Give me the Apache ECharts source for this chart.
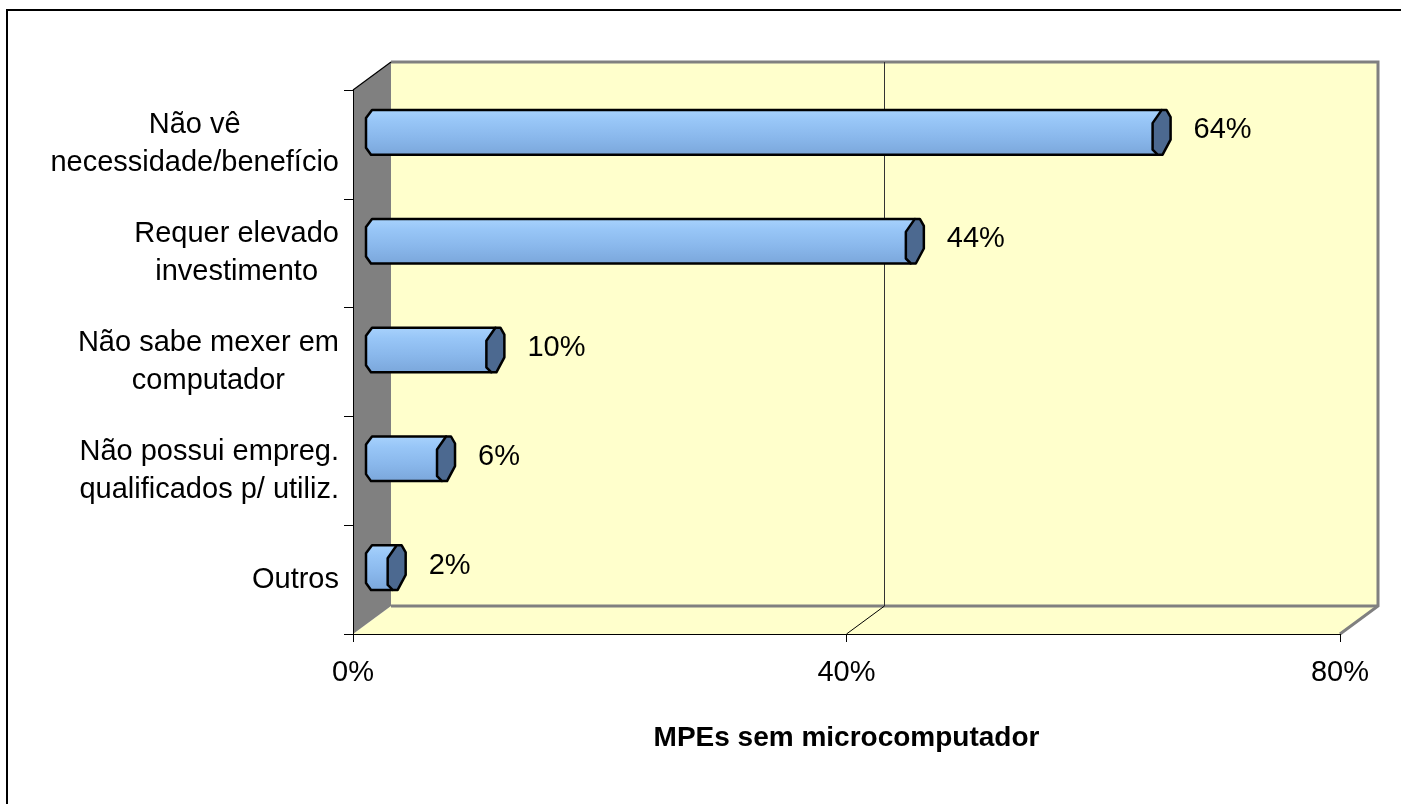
<!DOCTYPE html>
<html>
<head>
<meta charset="utf-8">
<script src="https://cdn.jsdelivr.net/npm/echarts@6/dist/echarts.min.js"></script>
<style>
  html, body { margin: 0; padding: 0; background: #fff; }
  #chart { width: 1401px; height: 804px; }
</style>
</head>
<body>
<div id="chart"></div>
<script>
// motivos das MPEs sem microcomputador
var categories = [
  'Não vê\nnecessidade/benefício',
  'Requer elevado\ninvestimento',
  'Não sabe mexer em\ncomputador',
  'Não possui empreg.\nqualificados p/ utiliz.',
  'Outros'
];
var values = [64, 44, 10, 6, 2];
var xTicks = [0, 40, 80];
var axisTitle = 'MPEs sem microcomputador';

var FONT = '"Liberation Sans", Arial, sans-serif';
var DX = 38, DY = -28; // profundidade do "3D"

var chart = echarts.init(document.getElementById('chart'), null, { renderer: 'canvas' });

function frame(api) {
  var bandH = api.size([0, 1])[1];
  var a = api.coord([xTicks[0], 0]);
  var b = api.coord([xTicks[xTicks.length - 1], categories.length - 1]);
  return { left: a[0], right: b[0], top: a[1] - bandH / 2, bottom: b[1] + bandH / 2, bandH: bandH };
}

// paredes, piso e linha de grade
function renderWalls(params, api) {
  var f = frame(api);
  var L = f.left, R = f.right, T = f.top, B = f.bottom;
  var kids = [];
  kids.push({ type: 'polygon', shape: { points: [[L, B], [L + DX, B + DY], [R + DX, B + DY], [R, B]] },
    style: { fill: '#FFFFCC', stroke: null } });
  kids.push({ type: 'polygon', shape: { points: [[L + DX, T + DY], [R + DX, T + DY], [R + DX, B + DY], [L + DX, B + DY]] },
    style: { fill: '#FFFFCC', stroke: null } });
  kids.push({ type: 'polygon', shape: { points: [[L, T], [L + DX, T + DY], [L + DX, B + DY], [L, B]] },
    style: { fill: '#808080', stroke: null } });
  // bordas cinzas
  kids.push({ type: 'polyline', shape: { points: [[L + DX, T + DY], [R + DX, T + DY], [R + DX, B + DY], [R, B]] },
    style: { stroke: '#808080', lineWidth: 3, fill: null } });
  kids.push({ type: 'line', shape: { x1: L + DX, y1: B + DY, x2: R + DX, y2: B + DY },
    style: { stroke: '#808080', lineWidth: 3 } });
  kids.push({ type: 'line', shape: { x1: L, y1: T, x2: L + DX, y2: T + DY },
    style: { stroke: '#000', lineWidth: 1.2 } });
  // grades internas
  for (var i = 1; i < xTicks.length - 1; i++) {
    var gx = api.coord([xTicks[i], 0])[0];
    kids.push({ type: 'line', shape: { x1: gx + DX, y1: T + DY, x2: gx + DX, y2: B + DY },
      style: { stroke: '#333', lineWidth: 1 } });
    kids.push({ type: 'line', shape: { x1: gx + DX, y1: B + DY, x2: gx, y2: B },
      style: { stroke: '#000', lineWidth: 1 } });
  }
  return { type: 'group', children: kids };
}

function renderBar(params, api) {
  var v = api.value(0);
  var p0 = api.coord([0, api.value(1)]);
  var p1 = api.coord([v, api.value(1)]);
  var bandH = api.size([0, 1])[1];
  var h = bandH * 0.41;
  var yc = p0[1] + DY / 2 + 2;
  var T = yc - h / 2, Bt = yc + h / 2;
  var xs = p0[0] + DX / 2, xe = p1[0] + DX / 2;
  var body = [[xs, T], [xe, T], [xe - 4, Bt], [xs - 1, Bt], [xs - 6, Bt - 7], [xs - 6, T + 8]];
  var cap = [[xe, T], [xe + 5, T], [xe + 9, T + 7], [xe + 9, Bt - 15], [xe + 1, Bt], [xe - 4, Bt], [xe - 9, Bt - 5], [xe - 9, T + 13]];
  return {
    type: 'group',
    children: [
      { type: 'polygon', shape: { points: body },
        style: { fill: new echarts.graphic.LinearGradient(0, 0, 0, 1, [
          { offset: 0, color: '#a9d3fd' }, { offset: 0.25, color: '#98c6f7' },
          { offset: 0.6, color: '#8ab8ec' }, { offset: 1, color: '#7aa6da' }]),
          stroke: '#000', lineWidth: 2.5, lineJoin: 'round' } },
      { type: 'polygon', shape: { points: cap },
        style: { fill: '#4c6990', stroke: '#000', lineWidth: 2.5, lineJoin: 'round' } },
      { type: 'text', style: { text: v + '%', x: xe + 32, y: yc - 2, fill: '#000',
          font: '29px ' + FONT, align: 'left', verticalAlign: 'middle' } }
    ]
  };
}

var option = {
  backgroundColor: '#fff',
  animation: false,
  graphic: [{
    type: 'rect', shape: { x: 7, y: 10, width: 1440, height: 840 },
    style: { fill: null, stroke: '#000', lineWidth: 2 }, z: 100
  }],
  grid: { left: 353, right: 61, top: 90, bottom: 170 },
  xAxis: {
    type: 'value', min: 0, max: 80, interval: 40,
    axisLine: { show: true, lineStyle: { color: '#000', width: 1 } },
    axisTick: { show: true, length: 8, lineStyle: { color: '#000' } },
    axisLabel: { formatter: '{value}%', color: '#000', fontSize: 29, fontFamily: FONT, margin: 24 },
    splitLine: { show: false },
    name: axisTitle, nameLocation: 'middle', nameGap: 90,
    nameTextStyle: { color: '#000', fontSize: 28, fontWeight: 'bold', fontFamily: FONT }
  },
  yAxis: {
    type: 'category', data: categories, inverse: true,
    axisLine: { show: true, lineStyle: { color: '#000', width: 1 } },
    axisTick: { show: true, length: 9, lineStyle: { color: '#000' } },
    axisLabel: {
      align: 'right', margin: 14, color: '#000',
      formatter: function (s) {
        return s.split('\n').map(function (l) { return '{c|' + l + '}'; }).join('\n');
      },
      rich: { c: { align: 'center', fontSize: 29, lineHeight: 38, fontFamily: FONT, color: '#000' } }
    },
    splitLine: { show: false }
  },
  series: [
    { type: 'custom', z: -1, renderItem: renderWalls, data: [[0, 0]], silent: true },
    { type: 'custom', z: 3, renderItem: renderBar,
      data: values.map(function (v, i) { return [v, i]; }), encode: { x: 0, y: 1 } }
  ]
};

chart.setOption(option);
</script>
</body>
</html>
